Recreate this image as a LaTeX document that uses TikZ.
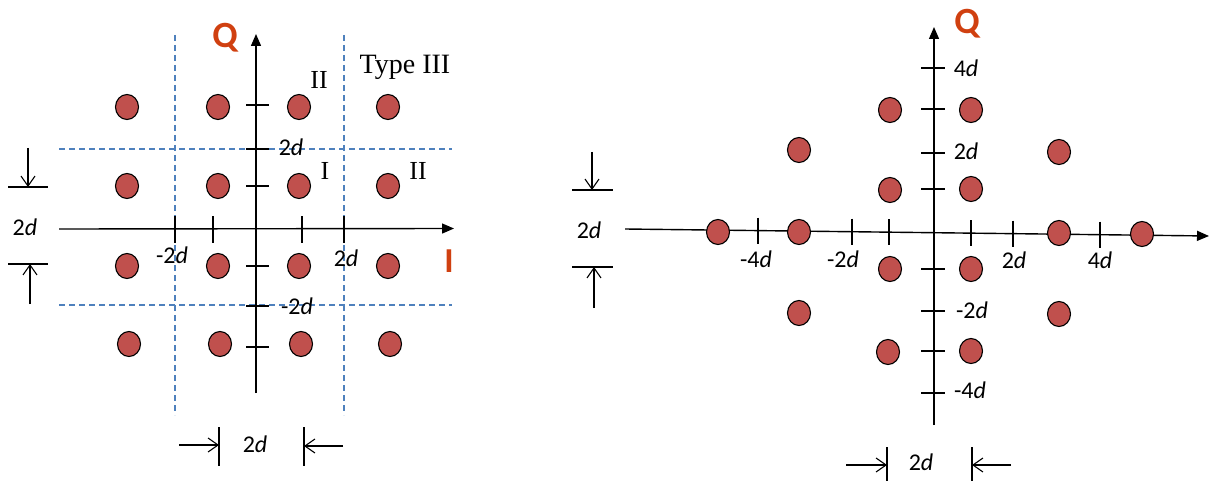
\documentclass[tikz,border=0pt]{standalone}
\usepackage{fontspec}
\setmainfont{Liberation Serif}
\newfontfamily\calfont{Carlito}
\usetikzlibrary{arrows.meta,shapes.geometric}
\definecolor{dotred}{RGB}{192,80,77}
\definecolor{lblred}{RGB}{208,64,16}
\definecolor{dashblue}{RGB}{79,129,189}
\tikzset{
 dot/.style={ellipse,draw=black,line width=1.1pt,fill=dotred,minimum width=23pt,minimum height=25pt,inner sep=0},
 axis/.style={line width=1.4pt,-{Triangle[length=12pt,width=10pt]}},
 tickline/.style={line width=1.4pt},
 gridline/.style={dash pattern=on 6pt off 4pt, draw=dashblue, line width=1.1pt},
 lab/.style={font=\calfont\fontsize{24}{24}\selectfont, inner sep=0, anchor=base},
 axlab/.style={font=\calfont\bfseries\fontsize{37}{37}\selectfont, text=lblred, inner sep=0},
 roman/.style={font=\fontsize{26}{26}\selectfont, inner sep=0, anchor=base},
 dimline/.style={line width=1.1pt},
 dimarrow/.style={line width=1.1pt,-{Straight Barb[length=10pt,width=14pt]}}
}
\newcommand{\dd}[1]{#1\textit{d}}
\begin{document}
\begin{tikzpicture}[x=1pt,y=-1pt]
\useasboundingbox (0,0) rectangle (1209,481);
% ================= LEFT =================
% grid
\coordinate (gv1a) at (175,35); \coordinate (gv1b) at (175,415);
\coordinate (gv2a) at (344,35); \coordinate (gv2b) at (344,415);
\coordinate (gh1a) at (59,149); \coordinate (gh1b) at (452,149);
\coordinate (gh2a) at (59,305); \coordinate (gh2b) at (452,305);
\draw[gridline] (gv1a) -- (gv1b);
\draw[gridline] (gv2a) -- (gv2b);
\draw[gridline] (gh1a) -- (gh1b);
\draw[gridline] (gh2a) -- (gh2b);
% axes
\coordinate (lQs) at (256,393); \coordinate (lQe) at (256,34);
\coordinate (lIs) at (59,229); \coordinate (lIe) at (454,228.5);
\draw[axis] (lQs) -- (lQe);
\draw[axis] (lIs) -- (lIe);
% ticks on Q
\foreach \y/\n in {105/a,149/b,186/c,266/d,306/e,347/f}{
  \coordinate (lqt\n1) at (246,\y); \coordinate (lqt\n2) at (269,\y);
  \draw[tickline] (lqt\n1) -- (lqt\n2);
}
% ticks on I
\foreach \x/\n in {175/a,213/b,302/c,344/d}{
  \coordinate (lit\n1) at (\x,216); \coordinate (lit\n2) at (\x,243);
  \draw[tickline] (lit\n1) -- (lit\n2);
}
% dots
\foreach \x [count=\i] in {127,218,299,388}{
  \node[dot] (ld1\i) at (\x,107) {};
  \node[dot] (ld2\i) at (\x,186) {};
  \node[dot] (ld3\i) at (\x,266) {};
}
\foreach \x [count=\i] in {129,220,301,390}{
  \node[dot] (ld4\i) at (\x,344) {};
}
% labels
\node[axlab] (lQ) at (225,38) {Q};
\node[axlab, font=\calfont\bfseries\fontsize{35}{35}\selectfont] (lI) at (449,261) {I};
\node[roman, font=\fontsize{28}{28}\selectfont] (ltype) at (405,74) {Type III};
\node[roman] (lII1) at (319,89) {II};
\node[roman] (lI1) at (325,180) {I};
\node[roman] (lII2) at (418,180) {II};
\node[lab] (lq2) at (291,156) {\dd{2}};
\node[lab] (lqm2) at (297,314) {\dd{-2}};
\node[lab] (lim2) at (172,263) {\dd{-2}};
\node[lab] (li2) at (346,266) {\dd{2}};
\node[lab] (lleft) at (25,235) {\dd{2}};
\node[lab] (lbot) at (255,452) {\dd{2}};
% left dimension marker
\coordinate (ldl1a) at (8,187); \coordinate (ldl1b) at (48,187);
\coordinate (ldl2a) at (8,264); \coordinate (ldl2b) at (48,264);
\coordinate (lda1s) at (28,148); \coordinate (lda1e) at (28,187);
\coordinate (lda2s) at (30,304); \coordinate (lda2e) at (30,264);
\draw[dimline] (ldl1a) -- (ldl1b);
\draw[dimline] (ldl2a) -- (ldl2b);
\draw[dimarrow] (lda1s) -- (lda1e);
\draw[dimarrow] (lda2s) -- (lda2e);
% bottom dimension marker
\coordinate (lbv1a) at (219,427); \coordinate (lbv1b) at (219,466);
\coordinate (lbv2a) at (304,427); \coordinate (lbv2b) at (304,466);
\coordinate (lba1s) at (179,445); \coordinate (lba1e) at (219,445);
\coordinate (lba2s) at (343,446); \coordinate (lba2e) at (304,446);
\draw[dimline] (lbv1a) -- (lbv1b);
\draw[dimline] (lbv2a) -- (lbv2b);
\draw[dimarrow] (lba1s) -- (lba1e);
\draw[dimarrow] (lba2s) -- (lba2e);
% ================= RIGHT =================
\coordinate (rQs) at (934,425); \coordinate (rQe) at (934,27);
\coordinate (rIs) at (625,229); \coordinate (rIe) at (1209,236);
\draw[axis] (rQs) -- (rQe);
\draw[axis] (rIs) -- (rIe);
\foreach \y/\n in {68/a,109/b,153/c,189/d,269/e,311/f,351/g,393/h}{
  \coordinate (rqt\n1) at (921,\y); \coordinate (rqt\n2) at (945,\y);
  \draw[tickline] (rqt\n1) -- (rqt\n2);
}
\foreach \x/\y/\n in {758/230.6/a,852/231.7/b,889/232.2/c,971/233.2/d,1013/233.7/e,1100/234.7/f}{
  \coordinate (rit\n1) at (\x,\y-13); \coordinate (rit\n2) at (\x,\y+13);
  \draw[tickline] (rit\n1) -- (rit\n2);
}
% dots
\foreach \x/\y [count=\i] in {890/110,971/110,799/150,1059/152,890/190,971/189,
  718/232,799/232,1059/233,1142/234,890/269,971/269,799/313,1059/314,888/352,971/351}{
  \node[dot] (rd\i) at (\x,\y) {};
}
% labels
\node[axlab] (rQ) at (967,24) {Q};
\node[lab] (rq4) at (966,77) {\dd{4}};
\node[lab] (rq2) at (966,160) {\dd{2}};
\node[lab] (rqm2) at (972,318) {\dd{-2}};
\node[lab] (rqm4) at (970,398) {\dd{-4}};
\node[lab] (rim4) at (756,267) {\dd{-4}};
\node[lab] (rim2) at (843,267) {\dd{-2}};
\node[lab] (ri2) at (1014,268) {\dd{2}};
\node[lab] (ri4) at (1100,268) {\dd{4}};
\node[lab] (rleft) at (589,238) {\dd{2}};
\node[lab] (rbot) at (921,470) {\dd{2}};
% left dimension marker
\coordinate (rdl1a) at (572,190); \coordinate (rdl1b) at (613,190);
\coordinate (rdl2a) at (572,267); \coordinate (rdl2b) at (613,267);
\coordinate (rda1s) at (592,152); \coordinate (rda1e) at (592,190);
\coordinate (rda2s) at (594,308); \coordinate (rda2e) at (594,267);
\draw[dimline] (rdl1a) -- (rdl1b);
\draw[dimline] (rdl2a) -- (rdl2b);
\draw[dimarrow] (rda1s) -- (rda1e);
\draw[dimarrow] (rda2s) -- (rda2e);
% bottom dimension marker
\coordinate (rbv1a) at (887,447); \coordinate (rbv1b) at (887,481);
\coordinate (rbv2a) at (972,447); \coordinate (rbv2b) at (972,481);
\coordinate (rba1s) at (846,465); \coordinate (rba1e) at (887,465);
\coordinate (rba2s) at (1011,465); \coordinate (rba2e) at (972,465);
\draw[dimline] (rbv1a) -- (rbv1b);
\draw[dimline] (rbv2a) -- (rbv2b);
\draw[dimarrow] (rba1s) -- (rba1e);
\draw[dimarrow] (rba2s) -- (rba2e);
\end{tikzpicture}
\end{document}
